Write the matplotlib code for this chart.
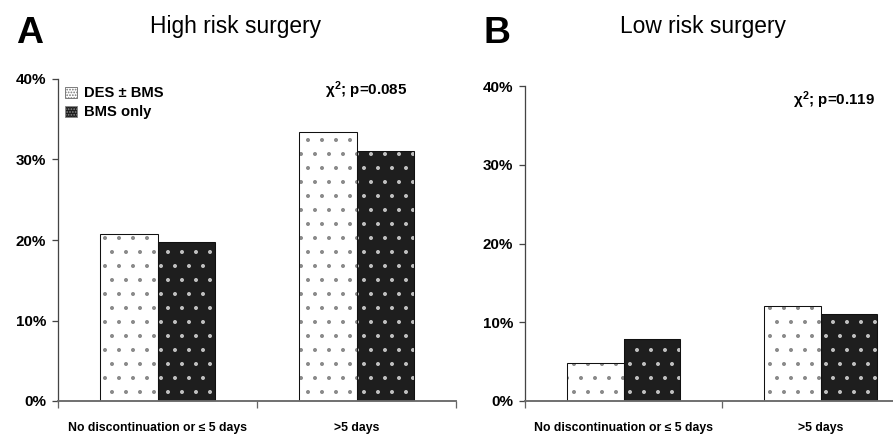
import matplotlib.pyplot as plt
from matplotlib.patches import Patch

# data (percent of patients)
categories = ['No discontinuation or \u2264 5 days', '>5 days']
high_des = [20.7, 33.4]
high_bms = [19.7, 31.1]
low_des = [4.8, 12.1]
low_bms = [7.9, 11.1]
series_names = ['DES \u00b1 BMS', 'BMS only']
yticks = [0, 10, 20, 30, 40]
ytick_labels = ['0%', '10%', '20%', '30%', '40%']

fonts = ['Liberation Sans', 'DejaVu Sans']
plt.rcParams['font.family'] = fonts
plt.rcParams['mathtext.fontset'] = 'custom'
plt.rcParams['mathtext.rm'] = 'Liberation Sans:bold'
plt.rcParams['mathtext.bf'] = 'Liberation Sans:bold'
plt.rcParams['mathtext.it'] = 'Liberation Sans:bold'

DPI = 84
fig = plt.figure(figsize=(893 / DPI, 440 / DPI), dpi=DPI)

ax_a = fig.add_axes([58 / 893, 1 - 401 / 440, 398 / 893, 322 / 440])
ax_b = fig.add_axes([525 / 893, 1 - 401 / 440, 394 / 893, 315 / 440])

w = 0.287
x = list(range(len(categories)))


def draw_panel(ax, des, bms):
    xd = [i - w / 2 for i in x]
    xb = [i + w / 2 for i in x]
    ax.bar(xd, des, w, color='white', edgecolor='#8a8a8a', linewidth=0, hatch='.')
    ax.bar(xb, bms, w, color='#1e1e1e', edgecolor='#c0c0c0', linewidth=0, hatch='.')
    ax.bar(xd, des, w, fill=False, edgecolor='#111111', linewidth=0.9)
    ax.bar(xb, bms, w, fill=False, edgecolor='#111111', linewidth=0.9)
    ax.set_xlim(-0.5, 1.5)
    ax.set_ylim(0, 40)
    ax.set_yticks(yticks)
    ax.set_yticklabels(ytick_labels, fontsize=13, fontweight='bold')
    ax.set_xticks([-0.5, 0.5, 1.5])
    ax.set_xticklabels([])
    ax.set_xticks(x, minor=True)
    ax.set_xticklabels(categories, minor=True, fontsize=10.5, fontweight='bold')
    ax.tick_params(axis='x', which='minor', length=0, pad=18)
    ax.tick_params(axis='x', which='major', length=6, width=1.1, color='#666666')
    ax.tick_params(axis='y', length=5, width=1.1, color='#444444', pad=5)
    for s in ['top', 'right']:
        ax.spines[s].set_visible(False)
    ax.spines['left'].set_color('#444444')
    ax.spines['left'].set_linewidth(1.1)
    ax.spines['bottom'].set_color('#6a6a6a')
    ax.spines['bottom'].set_linewidth(1.6)


draw_panel(ax_a, high_des, high_bms)
draw_panel(ax_b, low_des, low_bms)

handles = [Patch(facecolor='white', edgecolor='#777777', hatch='.....', linewidth=0.8),
           Patch(facecolor='#1e1e1e', edgecolor='#888888', hatch='.....', linewidth=0.8)]
ax_a.legend(handles, series_names, loc='upper left', bbox_to_anchor=(0.0, 1.0),
            frameon=False, handlelength=0.8, handleheight=0.8, handletextpad=0.5,
            labelspacing=0.35, borderaxespad=0.1,
            prop={'family': fonts, 'weight': 'bold', 'size': 12.6})

ax_a.text(0.672, 0.965, r'$\chi^2$; p=0.085', transform=ax_a.transAxes, fontsize=13,
          fontweight='bold', ha='left', va='center')
ax_b.text(0.681, 0.955, r'$\chi^2$; p=0.119', transform=ax_b.transAxes, fontsize=13,
          fontweight='bold', ha='left', va='center')

fig.text(16 / 893, 1 - 43 / 440, 'A', fontsize=32, fontweight='bold', ha='left', va='baseline')
fig.text(483 / 893, 1 - 43 / 440, 'B', fontsize=32, fontweight='bold', ha='left', va='baseline')
fig.text(236 / 893, 1 - 33 / 440, 'High risk surgery', fontsize=19.5, ha='center', va='baseline')
fig.text(703 / 893, 1 - 33 / 440, 'Low risk surgery', fontsize=19.5, ha='center', va='baseline')

fig.savefig('out.png', dpi=DPI)
